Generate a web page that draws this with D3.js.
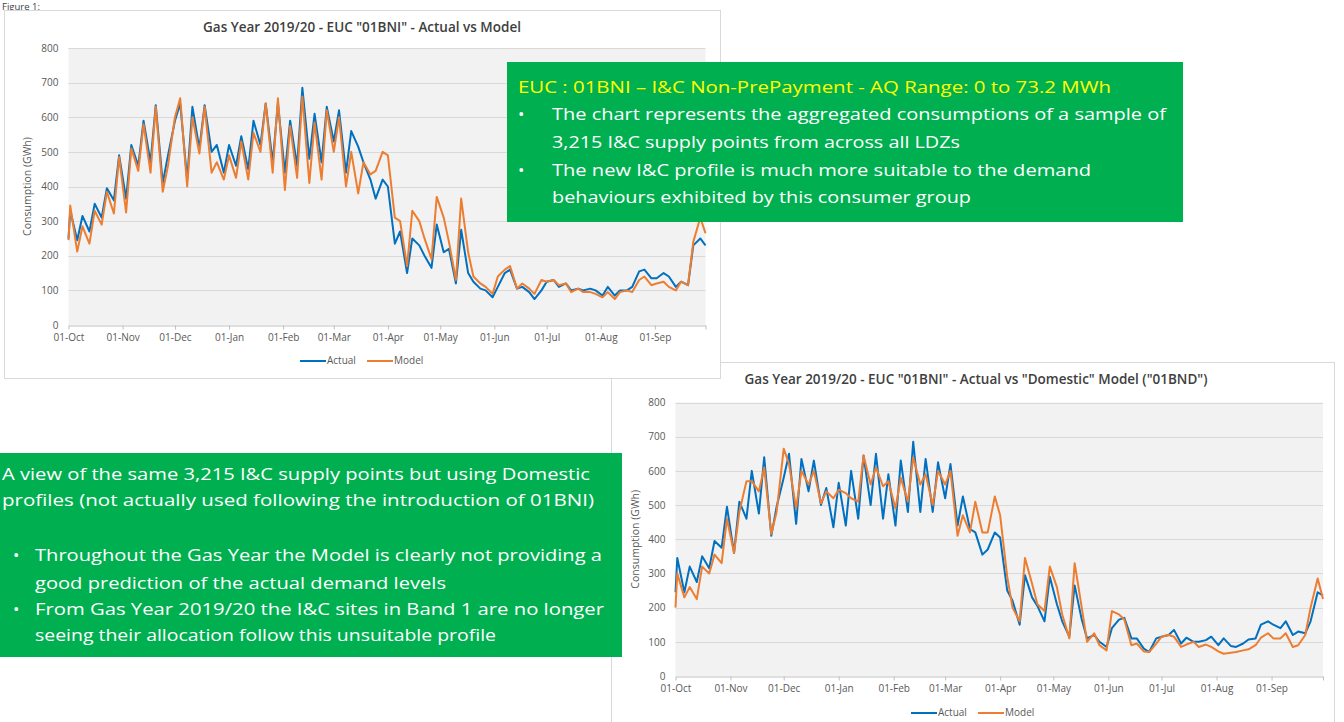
<!DOCTYPE html>
<html>
<head>
<meta charset="utf-8">
<script src="https://cdn.jsdelivr.net/npm/d3@7"></script>
<style>
  body { margin: 0; background: #fff; }
  svg { display: block; font-family: "Open Sans", sans-serif; }
</style>
</head>
<body>
<script>
// Sample days (offset from 01-Oct-2019): start, then mid-week / weekend readings
const sampleDays = [0, 1, 5, 8, 12, 15, 19, 22, 26, 29, 33, 36, 40, 43, 47, 50, 54, 57, 61, 64, 68,
  71, 75, 78, 82, 85, 89, 92, 96, 99, 103, 106, 110, 113, 117, 120, 124, 127, 131, 134, 138,
  141, 145, 148, 152, 155, 159, 162, 166, 169, 173, 176, 180, 183, 187, 190, 194, 197, 201,
  204, 208, 211, 215, 218, 222, 225, 229, 232, 236, 239, 243, 246, 250, 253, 257, 260, 264,
  267, 271, 274, 278, 281, 285, 288, 292, 295, 299, 302, 306, 309, 313, 316, 320, 323, 327,
  330, 334, 337, 341, 344, 348, 351, 355, 358, 362, 365];

// Chart 1 - Actual vs Model (GWh)
const actual1 = [250, 330, 245, 315, 270, 350, 310, 395, 360, 490, 365, 520, 460, 590, 470, 635, 410,
  490, 590, 640, 420, 630, 510, 635, 500, 520, 440, 520, 460, 545, 450, 590, 520, 640, 470,
  640, 440, 590, 460, 685, 480, 610, 470, 630, 530, 620, 440, 560, 515, 470, 420, 365, 420,
  400, 235, 270, 150, 250, 230, 200, 165, 290, 210, 220, 120, 275, 150, 125, 105, 100, 80,
  110, 150, 160, 105, 110, 95, 75, 100, 125, 130, 110, 120, 100, 105, 100, 105, 100, 85,
  110, 85, 100, 100, 110, 155, 160, 135, 135, 150, 140, 110, 125, 115, 230, 250, 230];
const model1 = [245, 345, 212, 285, 235, 330, 290, 385, 322, 485, 325, 510, 445, 580, 440, 630, 385,
  460, 600, 655, 400, 600, 495, 630, 440, 470, 420, 490, 425, 530, 420, 555, 500, 640, 440,
  655, 390, 575, 425, 660, 410, 585, 420, 620, 500, 600, 400, 500, 380, 470, 435, 445, 500,
  490, 310, 300, 170, 330, 300, 250, 190, 370, 310, 240, 130, 365, 210, 140, 120, 110, 90,
  140, 160, 170, 105, 120, 105, 90, 130, 125, 130, 115, 120, 95, 105, 95, 95, 90, 80,
  95, 75, 95, 100, 95, 130, 140, 115, 120, 125, 110, 100, 125, 115, 240, 310, 265];

// Chart 2 - Actual vs "Domestic" Model (GWh)
const actual2 = [245, 345, 245, 320, 275, 350, 315, 395, 375, 495, 360, 510, 460, 600, 475, 640, 410,
  495, 580, 650, 445, 635, 540, 630, 500, 550, 435, 565, 440, 600, 460, 645, 500, 650, 460,
  590, 440, 630, 480, 685, 480, 635, 480, 625, 520, 620, 440, 525, 430, 420, 355, 370, 420,
  405, 250, 220, 150, 295, 230, 205, 160, 290, 210, 160, 115, 265, 165, 110, 120, 100, 85,
  140, 165, 170, 110, 110, 80, 70, 110, 115, 120, 135, 95, 112, 100, 100, 105, 115, 90,
  110, 88, 85, 95, 107, 110, 150, 160, 150, 140, 160, 120, 130, 125, 160, 245, 235];
const model2 = [200, 300, 230, 260, 225, 320, 300, 355, 330, 460, 360, 480, 570, 570, 540, 610, 415,
  480, 665, 620, 490, 600, 560, 600, 505, 540, 520, 545, 535, 520, 510, 645, 560, 610, 555,
  570, 490, 580, 510, 640, 560, 590, 500, 600, 560, 600, 410, 470, 420, 510, 420, 420, 525,
  470, 290, 200, 160, 345, 270, 210, 190, 320, 260, 180, 110, 330, 200, 100, 125, 90, 75,
  190, 180, 165, 90, 95, 72, 70, 95, 115, 120, 115, 85, 92, 100, 85, 92, 85, 72,
  65, 68, 70, 75, 78, 90, 112, 125, 110, 110, 125, 85, 90, 120, 200, 285, 225];

const yTicks = [0, 100, 200, 300, 400, 500, 600, 700, 800];
const seriesNames = ['Actual', 'Model'];
const colors = ['#0070c0', '#ed7d31'];

const startDate = new Date(2019, 9, 1);
const endDate = new Date(2020, 8, 30);
const dates = sampleDays.map(d => d3.timeDay.offset(startDate, d));
const monthTicks = d3.timeMonth.range(startDate, endDate).concat([endDate]);

const svg = d3.select('body').append('svg')
    .attr('width', 1344)
    .attr('height', 722);

svg.append('text')
    .attr('x', 2).attr('y', 9.5)
    .attr('font-size', 9.5).attr('fill', '#404040')
    .text('Figure 1:');

function drawChart(cfg, actual, model) {
    const g = svg.append('g');

    g.append('rect')
        .attr('x', cfg.frame[0] + 0.5).attr('y', cfg.frame[1] + 0.5)
        .attr('width', cfg.frame[2]).attr('height', cfg.frame[3])
        .attr('fill', '#fff').attr('stroke', '#d9d9d9');

    g.append('text')
        .attr('x', cfg.titleX).attr('y', cfg.titleY)
        .attr('text-anchor', 'middle')
        .attr('font-size', 13.5).attr('font-weight', 600).attr('fill', '#404040')
        .text(cfg.title);

    const x = d3.scaleTime().domain([startDate, endDate]).range([cfg.left, cfg.right]);
    const y = d3.scaleLinear().domain([0, 800]).range([cfg.bottom, cfg.top]);

    g.append('rect')
        .attr('x', cfg.left).attr('y', y(800))
        .attr('width', cfg.right - cfg.left).attr('height', y(0) - y(800))
        .attr('fill', '#f2f2f2');

    g.selectAll('.grid')
        .data(yTicks.slice(1))
        .enter().append('line')
        .attr('x1', cfg.left).attr('x2', cfg.right)
        .attr('y1', d => Math.round(y(d)) + 0.5).attr('y2', d => Math.round(y(d)) + 0.5)
        .attr('stroke', '#d9d9d9');

    // y axis labels
    const yAxis = g.append('g')
        .attr('transform', `translate(${cfg.left},0)`)
        .call(d3.axisLeft(y).tickValues(yTicks).tickSize(0).tickPadding(10));
    yAxis.select('.domain').remove();
    yAxis.selectAll('text').attr('font-size', 10).attr('fill', '#595959')
        .attr('font-family', '"Open Sans", sans-serif');

    // x axis
    const xAxis = g.append('g')
        .attr('transform', `translate(0,${Math.round(y(0)) + 0.5})`)
        .call(d3.axisBottom(x)
            .tickValues(monthTicks)
            .tickFormat(d => +d === +endDate ? '' : d3.timeFormat('%d-%b')(d))
            .tickSize(4).tickSizeOuter(0).tickPadding(4));
    xAxis.select('.domain').attr('stroke', '#bfbfbf');
    xAxis.selectAll('.tick line').attr('stroke', '#bfbfbf');
    xAxis.selectAll('text').attr('font-size', 10).attr('fill', '#595959')
        .attr('font-family', '"Open Sans", sans-serif');

    g.append('text')
        .attr('transform', `translate(${cfg.yTitleX},${(cfg.top + cfg.bottom) / 2}) rotate(-90)`)
        .attr('text-anchor', 'middle').attr('dominant-baseline', 'middle')
        .attr('font-size', 10.5).attr('fill', '#595959')
        .text('Consumption (GWh)');

    const line = d3.line()
        .x((d, i) => x(dates[i]))
        .y(d => y(d));

    [actual, model].forEach((s, i) => {
        g.append('path')
            .datum(s)
            .attr('fill', 'none')
            .attr('stroke', colors[i])
            .attr('stroke-width', 2)
            .attr('stroke-linejoin', 'round')
            .attr('d', line);
    });

    // legend
    const leg = g.append('g').attr('transform', `translate(${cfg.legendX},${cfg.legendY})`);
    seriesNames.forEach((name, i) => {
        const off = i * 67;
        leg.append('line')
            .attr('x1', off).attr('x2', off + 26)
            .attr('stroke', colors[i]).attr('stroke-width', 2);
        leg.append('text')
            .attr('x', off + 27).attr('y', 0)
            .attr('dominant-baseline', 'middle')
            .attr('font-size', 10).attr('fill', '#595959')
            .text(name);
    });
}

function drawBox(box, lines) {
    const g = svg.append('g');
    g.append('rect')
        .attr('x', box[0]).attr('y', box[1])
        .attr('width', box[2]).attr('height', box[3])
        .attr('fill', '#00b050');
    lines.forEach(l => {
        if (l.bullet) {
            g.append('text')
                .attr('x', l.bullet).attr('y', l.y)
                .attr('font-size', 17).attr('fill', '#fff')
                .text('•');
        }
        g.append('text')
            .attr('x', l.x).attr('y', l.y)
            .attr('font-size', 17)
            .attr('fill', l.color || '#fff')
            .attr('textLength', l.w)
            .attr('lengthAdjust', 'spacingAndGlyphs')
            .text(l.text);
    });
}

// bottom-right chart first, it sits behind the other one
drawChart({
    frame: [611, 362, 723, 380],
    title: 'Gas Year 2019/20 - EUC "01BNI" - Actual vs "Domestic" Model ("01BND")',
    titleX: 976, titleY: 384,
    left: 675.5, right: 1323, top: 402.5, bottom: 676,
    yTitleX: 636, legendX: 911, legendY: 713
}, actual2, model2);

drawBox([0, 453, 622, 204], [
    { x: 2, y: 480, w: 588, text: 'A view of the same 3,215 I&C supply points but using Domestic' },
    { x: 2, y: 506, w: 592, text: 'profiles (not actually used following the introduction of 01BNI)' },
    { x: 35, bullet: 13, y: 561, w: 567, text: 'Throughout the Gas Year the Model is clearly not providing a' },
    { x: 35, y: 589, w: 411, text: 'good prediction of the actual demand levels' },
    { x: 35, bullet: 13, y: 615, w: 569, text: 'From Gas Year 2019/20 the I&C sites in Band 1 are no longer' },
    { x: 35, y: 641, w: 461, text: 'seeing their allocation follow this unsuitable profile' }
]);

drawChart({
    frame: [4, 10, 716, 368],
    title: 'Gas Year 2019/20 - EUC "01BNI" - Actual vs Model',
    titleX: 362, titleY: 32,
    left: 68.5, right: 705.5, top: 48, bottom: 325,
    yTitleX: 28, legendX: 300, legendY: 361
}, actual1, model1);

drawBox([507, 62, 676, 160], [
    { x: 518, y: 93, w: 593, color: '#ffff00', text: 'EUC : 01BNI \u2013 I&C Non-PrePayment  - AQ Range: 0 to 73.2 MWh' },
    { x: 552, bullet: 518, y: 120, w: 614, text: 'The chart represents the aggregated consumptions of a sample of' },
    { x: 552, y: 148, w: 408, text: '3,215 I&C supply points from across all LDZs' },
    { x: 552, bullet: 518, y: 176, w: 539, text: 'The new I&C profile is much more suitable to the demand' },
    { x: 552, y: 203, w: 419, text: 'behaviours exhibited by this consumer group' }
]);
</script>
</body>
</html>
